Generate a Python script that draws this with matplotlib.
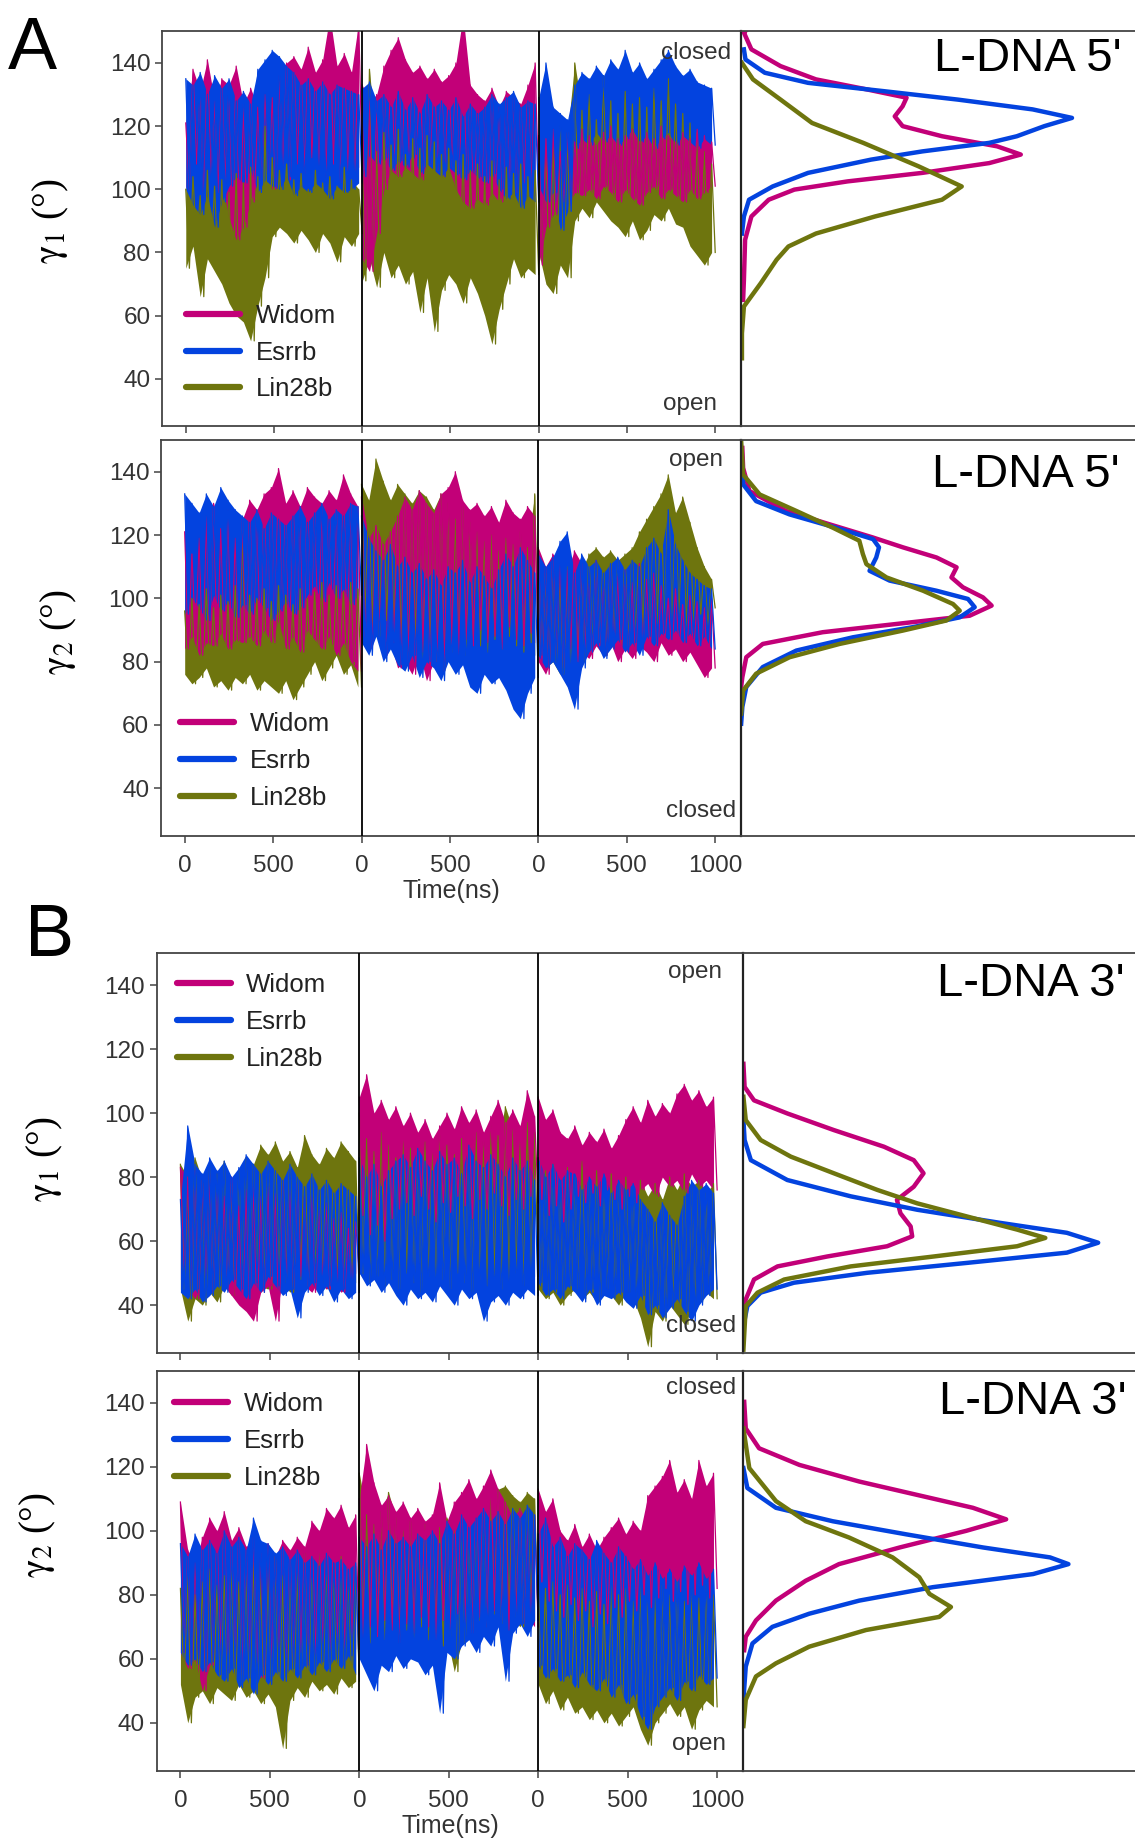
import numpy as np
import matplotlib
matplotlib.use('Agg')
import matplotlib.pyplot as plt
from matplotlib.lines import Line2D

plt.rcParams['font.family'] = ['Liberation Sans', 'DejaVu Sans']
plt.rcParams['mathtext.fontset'] = 'stix'

names = ['Widom', 'Esrrb', 'Lin28b']
colors = {'Widom': '#c20078', 'Esrrb': '#0343df', 'Lin28b': '#6e750e'}
xtick_pos = [0, 500, 1000, 1500, 2000, 2500, 3000]
xtick_lab = ['0', '500', '0', '500', '0', '500', '1000']
ytick_pos = [40, 60, 80, 100, 120, 140]

# three 1000 ns runs per system; successive local maxima / minima (deg), 25 of each per run
a1_widom_hi = [121,138,131,141,128,135,133,139,127,132,126,130,129,136,140,142,138,145,137,141,155,139,143,137,153,
               133,128,130,139,144,148,141,137,139,135,138,134,136,140,155,133,130,128,132,126,131,129,127,133,140,
               117,116,119,112,118,115,119,117,114,118,120,116,117,119,115,118,116,120,117,115,118,116,119,117,115]
a1_widom_lo = [100,108,96,104,99,102,91,84,88,96,103,105,100,107,103,108,105,110,106,104,108,102,106,103,107,
               78,74,86,100,106,104,107,105,103,108,106,104,107,100,96,94,97,95,99,96,101,99,102,100,98,
               76,88,92,96,95,99,98,100,97,101,99,96,100,97,95,99,101,97,100,98,96,100,97,99,101]
a1_esrrb_hi = [135,133,137,130,136,132,135,128,131,127,138,141,144,142,139,137,133,135,131,134,130,133,132,131,130,
               132,134,128,130,126,131,125,129,124,130,126,128,125,129,123,127,124,126,130,127,129,131,126,128,127,
               129,140,126,124,122,133,137,135,139,136,141,138,144,137,140,135,138,141,144,139,136,138,134,133,132]
a1_esrrb_lo = [100,95,92,98,88,96,101,104,102,106,99,103,101,100,104,98,101,99,102,100,97,101,99,100,102,
               104,111,108,110,106,109,107,111,105,108,106,104,107,105,103,106,104,102,105,100,97,99,94,98,96,
               101,96,99,87,93,113,116,114,118,115,117,114,116,119,115,117,113,116,118,114,117,115,113,116,114]
a1_lin28b_hi = [100,104,98,106,101,103,99,105,102,107,104,120,110,106,108,103,105,100,106,102,104,101,107,103,100,
                109,138,112,118,114,119,111,116,113,117,115,111,113,109,111,106,108,104,109,103,107,105,108,104,106,
                108,112,115,120,118,140,125,130,122,136,128,124,131,127,129,126,132,128,135,127,124,121,118,112,108]
a1_lin28b_lo = [75,82,66,78,74,70,64,60,58,52,63,72,85,88,86,83,87,84,80,86,83,77,85,82,86,
                71,78,69,80,72,76,70,74,61,72,55,68,73,70,64,72,67,60,51,62,70,78,72,75,73,
                80,70,67,76,72,90,94,91,96,93,90,88,85,90,84,87,92,90,94,89,88,82,79,76,80]

a2_widom_hi = [121,114,119,126,130,122,128,119,125,131,128,133,135,141,130,134,129,135,132,130,134,131,139,133,129,
               132,119,123,117,121,126,132,128,134,130,127,133,135,140,131,128,130,126,129,124,131,127,125,129,126,
               116,110,114,112,109,115,111,108,112,106,110,107,109,105,111,106,108,104,100,103,98,101,99,97,100]
a2_widom_lo = [84,88,82,86,85,89,84,87,86,88,85,90,86,93,84,88,83,90,87,84,88,82,86,80,77,
               88,84,90,82,86,78,80,76,83,74,80,77,84,81,87,85,90,86,88,84,91,87,85,89,86,
               80,76,82,78,84,80,83,81,85,82,86,80,84,81,85,83,80,86,82,84,80,83,79,75,78]
a2_esrrb_hi = [133,130,127,133,129,135,131,128,126,124,128,122,127,125,123,126,129,124,127,130,125,128,126,130,129,
               126,119,115,112,117,110,113,108,111,106,109,104,110,108,112,105,110,107,103,109,114,110,116,112,108,
               114,110,113,118,121,108,114,110,112,108,111,113,109,112,110,116,119,114,128,117,112,108,106,104,103]
a2_esrrb_lo = [95,100,97,93,101,96,99,94,98,95,100,97,93,96,99,95,97,101,104,99,105,100,103,98,101,
               86,82,88,80,84,79,77,82,75,80,78,74,80,76,79,72,70,76,73,75,71,65,62,70,75,
               82,78,80,76,72,65,78,83,86,81,84,87,83,86,82,88,85,89,87,90,86,89,85,88,84]
a2_lin28b_hi = [96,100,98,103,97,101,99,104,122,101,100,103,99,104,101,98,103,100,102,105,101,104,102,105,103,
                136,131,144,137,131,136,133,130,134,132,128,133,130,125,129,124,121,118,120,115,119,117,121,116,133,
                112,108,111,107,110,106,109,114,116,113,115,112,114,116,121,125,129,133,139,127,132,124,116,110,106]
a2_lin28b_lo = [76,73,75,78,72,74,71,75,73,76,71,74,72,70,74,68,72,76,80,74,78,82,76,79,72,
                95,91,88,93,90,86,82,87,78,84,80,77,83,86,82,88,85,83,87,84,88,85,83,86,82,
                82,78,80,76,79,82,80,84,86,82,87,83,85,88,90,87,92,89,91,93,90,92,95,91,97]

b1_widom_hi = [83,80,82,79,81,78,74,80,71,76,78,74,77,75,79,76,78,74,76,70,72,67,69,64,66,
               105,112,100,104,98,102,96,100,94,98,92,96,100,95,102,97,101,94,99,104,97,101,96,107,99,
               105,98,101,94,92,96,90,94,91,95,89,93,98,102,97,104,99,103,100,106,109,104,107,102,105]
b1_widom_lo = [48,45,42,47,44,49,46,43,40,38,35,44,46,35,48,45,49,46,44,48,45,47,44,46,50,
               68,62,65,60,67,70,72,68,74,70,66,72,69,74,71,67,73,70,75,71,68,73,70,74,72,
               73,68,71,66,70,74,72,75,71,76,73,70,74,72,76,78,74,80,77,79,75,81,77,79,76]
b1_esrrb_hi = [73,96,84,81,86,82,85,80,83,87,84,81,85,82,79,84,80,77,81,76,79,75,78,76,74,
               86,80,84,77,82,85,87,83,89,85,82,88,84,86,81,90,85,83,87,84,80,86,82,85,79,
               86,80,84,79,82,81,76,80,77,81,75,79,76,78,73,70,66,72,68,65,74,79,76,78,75]
b1_esrrb_lo = [44,42,45,41,43,46,44,48,45,42,47,44,49,46,43,45,36,44,47,43,46,41,45,42,44,
               50,46,48,44,47,43,40,45,42,44,41,46,43,40,45,42,44,35,41,43,40,44,42,45,43,
               47,43,45,42,46,44,41,45,40,43,42,44,41,39,43,37,40,36,39,42,38,35,40,43,45]
b1_lin28b_hi = [84,80,86,79,83,81,85,78,82,86,84,90,87,91,85,88,83,93,87,84,89,86,91,88,85,
                100,92,88,94,90,86,92,89,85,91,88,93,90,87,92,89,94,91,96,93,102,95,92,97,94,
                86,82,84,78,83,80,85,79,82,76,81,78,80,76,79,74,78,73,80,76,81,77,79,75,78]
b1_lin28b_lo = [45,35,42,40,44,41,46,43,47,44,48,46,45,49,47,44,48,46,50,47,45,48,46,49,47,
                50,47,49,46,48,45,50,47,44,49,46,48,45,50,47,44,48,46,49,45,47,50,46,48,49,
                45,42,44,40,43,45,42,44,41,45,43,40,44,42,36,27,38,35,40,37,34,39,41,44,42]

b2_widom_hi = [109,94,90,98,104,100,106,97,101,95,98,93,96,92,97,94,98,95,103,100,107,104,108,101,105,
               110,127,115,108,111,106,109,104,107,103,105,115,103,109,112,116,110,114,119,113,109,104,107,102,105,
               113,106,110,100,97,102,95,99,94,98,101,104,99,103,100,111,114,117,122,112,116,110,122,114,118]
b2_widom_lo = [62,57,60,50,58,61,56,59,55,60,57,54,58,61,56,59,62,58,61,63,60,64,62,65,63,
               66,70,67,72,69,65,71,68,73,70,66,72,69,74,71,68,73,70,75,72,69,74,71,73,70,
               84,78,75,73,77,72,75,70,74,71,76,73,78,75,80,76,79,82,78,81,77,80,83,79,82]
b2_esrrb_hi = [96,92,99,94,97,93,100,95,98,94,104,97,96,93,95,91,94,90,92,89,93,90,91,88,90,
               98,95,99,94,100,96,98,95,99,97,100,96,103,99,105,101,104,107,103,106,102,107,104,108,105,
               99,104,95,98,92,96,94,91,97,93,90,95,92,88,91,86,90,85,88,84,89,86,90,85,88]
b2_esrrb_lo = [62,58,60,56,59,55,53,57,51,54,49,55,52,56,53,57,54,58,55,59,56,60,57,61,55,
               60,55,50,58,56,61,57,60,59,55,58,43,62,60,64,66,62,67,64,70,53,68,71,67,72,
               58,54,57,53,55,51,56,52,50,54,48,52,46,49,42,38,45,48,51,47,53,50,55,52,54]
b2_lin28b_hi = [82,86,80,84,88,83,86,90,84,87,91,85,88,92,86,90,87,93,89,94,90,88,92,86,89,
                118,105,102,106,112,104,100,103,99,102,98,101,104,100,103,99,102,106,110,113,114,111,109,112,110,
                86,82,84,80,83,79,82,78,81,77,83,80,82,78,84,81,79,83,80,84,78,82,79,83,80]
b2_lin28b_lo = [52,40,48,50,46,51,49,47,52,48,50,46,49,45,32,47,51,48,53,50,52,49,54,51,53,
                68,65,70,66,71,67,69,65,70,66,68,64,67,56,65,69,72,70,74,71,76,73,70,75,72,
                52,46,50,44,48,43,45,41,44,40,43,39,42,45,38,33,40,43,46,42,45,38,44,47,45]

# angle distributions (deg) and relative density
a1_ang_widom = [150, 149.6, 144.3, 139, 134.8, 131.6, 129, 126.3, 123.1, 120, 116.8, 113.6, 111, 108.3, 105.2, 102.5, 99.9, 96.7, 91.4, 84, 71.3, 65]
a1_den_widom = [0.01, 0.007, 0.026, 0.10, 0.19, 0.32, 0.42, 0.41, 0.39, 0.41, 0.51, 0.65, 0.71, 0.63, 0.46, 0.27, 0.135, 0.07, 0.026, 0.01, 0.007, 0.005]
a1_ang_esrrb = [144.3, 141.1, 136.9, 133.7, 131.1, 128.4, 125.3, 122.6, 120, 116.8, 114.7, 112, 109.4, 105.2, 100.9, 96.7, 91.4, 86]
a1_den_esrrb = [0.007, 0.011, 0.06, 0.17, 0.36, 0.55, 0.74, 0.84, 0.77, 0.70, 0.63, 0.46, 0.33, 0.17, 0.08, 0.02, 0.007, 0.002]
a1_ang_lin28b = [140, 134.8, 128.4, 121, 114.7, 107.3, 100.9, 96.7, 91.4, 86, 81.9, 77.7, 70.3, 62.9, 54.4, 46.5]
a1_den_lin28b = [0.002, 0.03, 0.10, 0.18, 0.31, 0.45, 0.56, 0.51, 0.34, 0.19, 0.12, 0.09, 0.05, 0.007, 0.002, 0.002]

a2_ang_widom = [147.5, 141.2, 133.9, 127.6, 123.4, 119.2, 116.1, 112.9, 109.8, 106.6, 103.5, 100.3, 97.7, 94.5, 91.9, 89.3, 85.6, 81.4, 75.1, 72]
a2_den_widom = [0.003, 0.005, 0.021, 0.114, 0.224, 0.335, 0.411, 0.496, 0.547, 0.534, 0.563, 0.614, 0.636, 0.58, 0.394, 0.207, 0.055, 0.013, 0.003, 0.0]
a2_ang_esrrb = [141.2, 136, 130.7, 126.5, 122.3, 118.7, 116.1, 112.9, 108.7, 105.6, 102.4, 99.8, 97.2, 94, 90.9, 87.7, 83.5, 78.3, 72, 65.7, 60.4]
a2_den_esrrb = [0.003, 0.005, 0.038, 0.123, 0.241, 0.335, 0.35, 0.343, 0.326, 0.377, 0.496, 0.576, 0.593, 0.555, 0.436, 0.284, 0.14, 0.055, 0.013, 0.003, 0.0]
a2_ang_lin28b = [149.6, 139.1, 132.8, 127.6, 122.3, 118.2, 114, 110.8, 106.6, 102.4, 98.2, 96.1, 93, 89.8, 85.6, 81.4, 76.2, 70.9, 63.6]
a2_den_lin28b = [0.0, 0.005, 0.047, 0.14, 0.233, 0.30, 0.309, 0.318, 0.369, 0.462, 0.538, 0.555, 0.521, 0.41, 0.25, 0.123, 0.038, 0.005, 0.0]

b1_ang_widom = [115.4, 108.2, 104, 99.9, 94.7, 89.5, 85.3, 81.2, 77, 72.9, 68.7, 64.6, 61.5, 58.4, 55.2, 52.1, 48, 41.8, 39.7]
b1_den_widom = [0.0, 0.003, 0.027, 0.112, 0.231, 0.359, 0.435, 0.46, 0.435, 0.392, 0.401, 0.427, 0.431, 0.367, 0.214, 0.087, 0.027, 0.006, 0.003]
b1_ang_esrrb = [97.8, 91.6, 85.3, 79.1, 74, 69.8, 65.7, 62.6, 59.5, 56.4, 53.2, 50.1, 47, 43.9, 39.7, 33.5]
b1_den_esrrb = [0.0, 0.003, 0.019, 0.112, 0.274, 0.444, 0.656, 0.826, 0.906, 0.826, 0.571, 0.316, 0.129, 0.044, 0.010, 0.0]
b1_ang_lin28b = [105.1, 97.8, 91.6, 86.4, 81.2, 76, 71.8, 67.7, 63.6, 61, 58.4, 55.2, 52.1, 48, 43.9, 39.7, 26.1]
b1_den_lin28b = [0.0, 0.006, 0.044, 0.121, 0.231, 0.342, 0.444, 0.571, 0.699, 0.771, 0.699, 0.486, 0.274, 0.104, 0.036, 0.006, 0.0]

b2_ang_widom = [140.3, 132, 125.8, 120.6, 115.4, 111.3, 107.2, 103.6, 100, 94.8, 89.6, 84.4, 78.2, 72, 66.9, 62.7]
b2_den_widom = [0.002, 0.006, 0.04, 0.143, 0.296, 0.441, 0.586, 0.671, 0.569, 0.399, 0.244, 0.159, 0.083, 0.032, 0.006, 0.002]
b2_ang_esrrb = [119.6, 113.4, 107.2, 103, 98.9, 94.8, 91.7, 89.6, 86.5, 82.4, 78.2, 74.1, 70, 64.8, 57.6, 47.2]
b2_den_esrrb = [0.0, 0.01, 0.083, 0.228, 0.416, 0.612, 0.783, 0.83, 0.74, 0.484, 0.296, 0.168, 0.074, 0.023, 0.006, 0.0]
b2_ang_lin28b = [132, 119.6, 109.3, 103, 97.9, 91.7, 85.5, 80.3, 76.2, 73.1, 69, 63.8, 58.6, 54.5, 47.2, 39]
b2_den_lin28b = [0.0, 0.015, 0.083, 0.159, 0.27, 0.381, 0.449, 0.475, 0.53, 0.5, 0.313, 0.168, 0.083, 0.032, 0.006, 0.0]

fig = plt.figure(figsize=(11.35, 18.45), dpi=100)
spine_c = '#444444'
text_c = '#333333'
order = ['Lin28b', 'Widom', 'Esrrb']


def draw_row(rect, traj, dens, ylabel, ylab_pos, title, title_pos, top_word, top_pos,
             bottom_word, bottom_pos, leg_pos, show_x):
    ax = fig.add_axes(rect)
    seg_t = np.linspace(0, 1000, 50)
    # filled cores first, then every trace on top so the lower ones show through
    for name in order:
        hi, lo = np.array(traj[name][0]), np.array(traj[name][1])
        for s in range(3):
            sl = slice(s * 25, (s + 1) * 25)
            ax.fill_between(s * 1000 + seg_t[0::2], lo[sl], hi[sl], color=colors[name], lw=0)
    for name in order:
        hi, lo = np.array(traj[name][0]), np.array(traj[name][1])
        vals = np.column_stack([hi, lo]).ravel()
        for s in range(3):
            ax.plot(s * 1000 + seg_t, vals[s * 50:(s + 1) * 50], color=colors[name], lw=0.9)
    for xb in [1000, 2000]:
        ax.axvline(xb, color='black', lw=1.3, zorder=5)
    ax.set_xlim(-133, 3147)
    ax.set_ylim(25, 150)
    ax.set_xticks(xtick_pos)
    ax.set_xticklabels(xtick_lab)
    ax.set_yticks(ytick_pos)
    ax.tick_params(direction='out', length=5, width=1.1, color=spine_c, labelsize=17.5,
                   labelcolor=text_c, labelbottom=show_x)
    ax.tick_params(axis='x', pad=9)
    for sp in ax.spines.values():
        sp.set_color(spine_c)
        sp.set_linewidth(1.3)
    ax.set_ylabel(ylabel, fontsize=28, family=['Liberation Serif', 'DejaVu Serif'])
    ax.yaxis.set_label_coords(*ylab_pos)
    if show_x:
        ax.set_xlabel('Time(ns)', fontsize=18, labelpad=1, color=text_c)
    ax.text(top_pos[0], top_pos[1], top_word, transform=ax.transAxes, ha='right', va='center',
            fontsize=17.5, color=text_c, zorder=6)
    ax.text(bottom_pos[0], bottom_pos[1], bottom_word, transform=ax.transAxes, ha='right', va='center',
            fontsize=17.5, color=text_c, zorder=6)
    handles = [Line2D([], [], color=colors[n], lw=4.5, solid_capstyle='round') for n in names]
    leg = ax.legend(handles, names, loc='upper left', bbox_to_anchor=leg_pos, frameon=False,
                    fontsize=18.5, handlelength=2.1, handletextpad=0.6, labelspacing=0.5,
                    borderpad=0, borderaxespad=0)
    for txt in leg.get_texts():
        txt.set_color('#222222')

    left = rect[0] + rect[2]
    dx = fig.add_axes([left, rect[1], 1 - left, rect[3]])
    for name in ['Widom', 'Esrrb', 'Lin28b']:
        ang, den = dens[name]
        dx.plot(den, ang, color=colors[name], lw=3.2, solid_joinstyle='round')
    dx.set_xlim(0, 1)
    dx.set_ylim(25, 150)
    dx.set_xticks([])
    dx.set_yticks([])
    dx.spines['right'].set_visible(False)
    for k in ['top', 'bottom']:
        dx.spines[k].set_color(spine_c)
        dx.spines[k].set_linewidth(1.3)
    dx.spines['left'].set_color('#222222')
    dx.spines['left'].set_linewidth(1.6)
    dx.text(title_pos[0], title_pos[1], title, transform=dx.transAxes, ha='right', va='center',
            fontsize=34, color='black')
    return ax


draw_row([0.143, 0.769, 0.510, 0.214],
         {'Widom': (a1_widom_hi, a1_widom_lo), 'Esrrb': (a1_esrrb_hi, a1_esrrb_lo),
          'Lin28b': (a1_lin28b_hi, a1_lin28b_lo)},
         {'Widom': (a1_ang_widom, a1_den_widom), 'Esrrb': (a1_ang_esrrb, a1_den_esrrb),
          'Lin28b': (a1_ang_lin28b, a1_den_lin28b)},
         r'$\mathrm{\gamma}_\mathrm{1}$ (°)', (-0.158, 0.52), "L-DNA 5'", (0.965, 0.931),
         'closed', (0.982, 0.946), 'open', (0.959, 0.057), (0.041, 0.31), False)

draw_row([0.142, 0.547, 0.511, 0.2145],
         {'Widom': (a2_widom_hi, a2_widom_lo), 'Esrrb': (a2_esrrb_hi, a2_esrrb_lo),
          'Lin28b': (a2_lin28b_hi, a2_lin28b_lo)},
         {'Widom': (a2_ang_widom, a2_den_widom), 'Esrrb': (a2_ang_esrrb, a2_den_esrrb),
          'Lin28b': (a2_ang_lin28b, a2_den_lin28b)},
         r'$\mathrm{\gamma}_\mathrm{2}$ (°)', (-0.142, 0.515), "L-DNA 5'", (0.961, 0.912),
         'open', (0.968, 0.949), 'closed', (0.992, 0.0625), (0.0325, 0.312), True)

draw_row([0.138, 0.2666, 0.517, 0.2168],
         {'Widom': (b1_widom_hi, b1_widom_lo), 'Esrrb': (b1_esrrb_hi, b1_esrrb_lo),
          'Lin28b': (b1_lin28b_hi, b1_lin28b_lo)},
         {'Widom': (b1_ang_widom, b1_den_widom), 'Esrrb': (b1_ang_esrrb, b1_den_esrrb),
          'Lin28b': (b1_ang_lin28b, b1_den_lin28b)},
         r'$\mathrm{\gamma}_\mathrm{1}$ (°)', (-0.156, 0.485), "L-DNA 3'", (0.973, 0.922),
         'open', (0.964, 0.953), 'closed', (0.988, 0.068), (0.034, 0.95), False)

draw_row([0.138, 0.0402, 0.517, 0.2168],
         {'Widom': (b2_widom_hi, b2_widom_lo), 'Esrrb': (b2_esrrb_hi, b2_esrrb_lo),
          'Lin28b': (b2_lin28b_hi, b2_lin28b_lo)},
         {'Widom': (b2_ang_widom, b2_den_widom), 'Esrrb': (b2_ang_esrrb, b2_den_esrrb),
          'Lin28b': (b2_ang_lin28b, b2_den_lin28b)},
         r'$\mathrm{\gamma}_\mathrm{2}$ (°)', (-0.168, 0.59), "L-DNA 3'", (0.979, 0.922),
         'closed', (0.988, 0.956), 'open', (0.97, 0.068), (0.030, 0.947), True)

fig.text(0.007, 0.992, 'A', fontsize=53, ha='left', va='top')
fig.text(0.022, 0.511, 'B', fontsize=53, ha='left', va='top')

fig.savefig('out.png', dpi=100)
